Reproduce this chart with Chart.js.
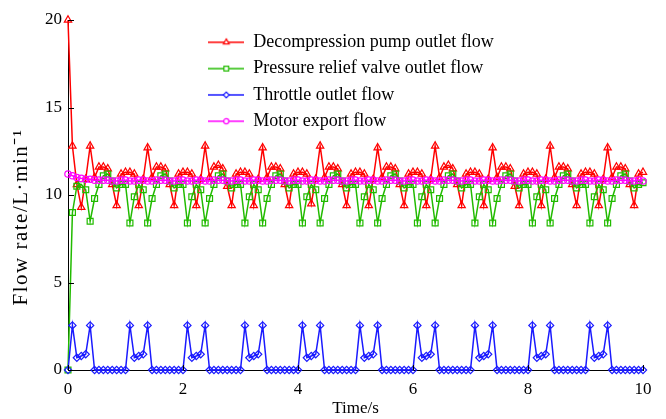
<!DOCTYPE html>
<html><head><meta charset="utf-8">
<script src="https://cdn.jsdelivr.net/npm/chart.js@4/dist/chart.umd.min.js"></script>
<style>html,body{margin:0;padding:0;background:#fff}#wrap{width:666px;height:419px;position:relative}</style>
</head><body><div id="wrap"><canvas id="c"></canvas></div>
<script>
// Time axis (s)
const times = [
0,0.077,0.154,0.231,0.308,0.385,0.462,0.538,0.615,0.692,0.769,0.846,0.923,
1,1.077,1.154,1.231,1.308,1.385,1.462,1.538,1.615,1.692,1.769,1.846,1.923,
2,2.077,2.154,2.231,2.308,2.385,2.462,2.538,2.615,2.692,2.769,2.846,2.923,
3,3.077,3.154,3.231,3.308,3.385,3.462,3.538,3.615,3.692,3.769,3.846,3.923,
4,4.077,4.154,4.231,4.308,4.385,4.462,4.538,4.615,4.692,4.769,4.846,4.923,
5,5.077,5.154,5.231,5.308,5.385,5.462,5.538,5.615,5.692,5.769,5.846,5.923,
6,6.077,6.154,6.231,6.308,6.385,6.462,6.538,6.615,6.692,6.769,6.846,6.923,
7,7.077,7.154,7.231,7.308,7.385,7.462,7.538,7.615,7.692,7.769,7.846,7.923,
8,8.077,8.154,8.231,8.308,8.385,8.462,8.538,8.615,8.692,8.769,8.846,8.923,
9,9.077,9.154,9.231,9.308,9.385,9.462,9.538,9.615,9.692,9.769,9.846,9.923,
10];
// Decompression pump outlet flow (L/min)
const pumpFlow = [
20,12.8,10.6,9.3,10.9,12.8,11.0,11.6,11.6,11.5,10.6,9.4,11.2,
11.3,11.3,11.2,9.4,10.9,12.7,11.0,11.6,11.6,11.5,10.6,9.4,11.2,
11.3,11.3,11.2,9.4,10.9,12.8,11.0,11.6,11.7,11.5,10.5,9.4,11.2,
11.3,11.3,11.2,9.4,10.9,12.7,11.0,11.6,11.6,11.5,10.6,9.4,11.2,
11.3,11.3,11.2,9.5,10.9,12.8,11.0,11.6,11.6,11.5,10.6,9.4,11.2,
11.3,11.3,11.2,9.4,10.9,12.7,11.0,11.6,11.6,11.5,10.6,9.4,11.2,
11.3,11.3,11.2,9.4,10.9,12.8,11.0,11.6,11.7,11.5,10.6,9.4,11.2,
11.3,11.3,11.2,9.4,10.9,12.7,11.0,11.6,11.6,11.5,10.5,9.4,11.2,
11.3,11.3,11.2,9.4,10.9,12.8,11.0,11.6,11.6,11.5,10.6,9.4,11.2,
11.3,11.3,11.2,9.4,10.9,12.7,11.0,11.6,11.6,11.5,10.6,9.4,11.2,
11.3];
// Pressure relief valve outlet flow
const reliefFlow = [
0,9.0,10.5,10.6,10.3,8.5,9.8,10.6,11.1,11.2,10.8,10.4,10.6,
10.6,8.4,9.9,10.6,10.3,8.4,9.8,10.6,11.1,11.2,10.8,10.4,10.6,
10.6,8.4,9.9,10.6,10.3,8.4,9.8,10.6,11.1,11.2,10.8,10.4,10.6,
10.6,8.4,9.9,10.6,10.3,8.4,9.8,10.6,11.1,11.2,10.8,10.4,10.6,
10.6,8.4,9.9,10.6,10.3,8.4,9.8,10.6,11.1,11.2,10.8,10.4,10.6,
10.6,8.4,9.9,10.6,10.3,8.4,9.8,10.6,11.1,11.2,10.8,10.4,10.6,
10.6,8.4,9.9,10.6,10.3,8.4,9.8,10.6,11.1,11.2,10.8,10.4,10.6,
10.6,8.4,9.9,10.6,10.3,8.4,9.8,10.6,11.1,11.2,10.8,10.4,10.6,
10.6,8.4,9.9,10.6,10.3,8.4,9.8,10.6,11.1,11.2,10.8,10.4,10.6,
10.6,8.4,9.9,10.6,10.3,8.4,9.8,10.6,11.1,11.2,10.8,10.4,10.6,
10.7];
// Throttle outlet flow
const throttleFlow = [
0,2.55,0.7,0.8,0.9,2.55,0,0,0,0,0,0,0,
0,2.55,0.7,0.8,0.9,2.55,0,0,0,0,0,0,0,
0,2.55,0.7,0.8,0.9,2.55,0,0,0,0,0,0,0,
0,2.55,0.7,0.8,0.9,2.55,0,0,0,0,0,0,0,
0,2.55,0.7,0.8,0.9,2.55,0,0,0,0,0,0,0,
0,2.55,0.7,0.8,0.9,2.55,0,0,0,0,0,0,0,
0,2.55,0.7,0.8,0.9,2.55,0,0,0,0,0,0,0,
0,2.55,0.7,0.8,0.9,2.55,0,0,0,0,0,0,0,
0,2.55,0.7,0.8,0.9,2.55,0,0,0,0,0,0,0,
0,2.55,0.7,0.8,0.9,2.55,0,0,0,0,0,0,0,
0];
// Motor export flow
const motorFlow = [
11.2,11.1,11.0,10.95,10.9,10.9,10.85,10.85,10.85,10.85,10.8,10.8,10.85,
10.85,10.8,10.8,10.85,10.85,10.8,10.8,10.85,10.85,10.85,10.8,10.8,10.85,
10.85,10.8,10.8,10.85,10.85,10.8,10.8,10.85,10.85,10.85,10.8,10.8,10.85,
10.85,10.8,10.8,10.85,10.85,10.8,10.8,10.85,10.85,10.85,10.8,10.8,10.85,
10.85,10.8,10.8,10.85,10.85,10.8,10.8,10.85,10.85,10.85,10.8,10.8,10.85,
10.85,10.8,10.8,10.85,10.85,10.8,10.8,10.85,10.85,10.85,10.8,10.8,10.85,
10.85,10.8,10.8,10.85,10.85,10.8,10.8,10.85,10.85,10.85,10.8,10.8,10.85,
10.85,10.8,10.8,10.85,10.85,10.8,10.8,10.85,10.85,10.85,10.8,10.8,10.85,
10.85,10.8,10.8,10.85,10.85,10.8,10.8,10.85,10.85,10.85,10.8,10.8,10.85,
10.85,10.8,10.8,10.85,10.85,10.8,10.8,10.85,10.85,10.85,10.8,10.8,10.85,
10.8];
const seriesNames = ['Decompression pump outlet flow','Pressure relief valve outlet flow','Throttle outlet flow','Motor export flow'];
const xTicks = [0,2,4,6,8,10];
const yTicks = [0,5,10,15,20];
const xTitle = 'Time/s';
const yTitle = 'Flow rate/L\u00b7min\u207b\u00b9';

const SERIF = "'Liberation Serif','Times New Roman',serif";
Chart.defaults.font.family = SERIF;
Chart.defaults.color = '#000';

const styles = [
  {color:'#ff0000', point:'triangle', r:4.2},
  {color:'#22bb00', point:'rect', r:4.2},
  {color:'#1a1aff', point:'rectRot', r:3.6},
  {color:'#ff00ff', point:'circle', r:3.2}
];
const values = [pumpFlow, reliefFlow, throttleFlow, motorFlow];

function sampleIcon(st){
  const c = document.createElement('canvas');
  c.width = 36; c.height = 14;
  const g = c.getContext('2d');
  g.strokeStyle = st.color; g.lineWidth = 1.5;
  g.beginPath(); g.moveTo(0,7); g.lineTo(36,7); g.stroke();
  g.fillStyle = '#ffffff'; g.lineWidth = 1.2;
  Chart.helpers.drawPoint(g, {pointStyle: st.point, radius: st.r*0.8, rotation: 0, borderWidth: 1.2}, 18, 7);
  return c;
}

const datasets = values.map((v, i) => ({
  label: seriesNames[i],
  data: times.map((t, k) => ({x: t, y: v[k]})),
  borderColor: styles[i].color,
  backgroundColor: 'rgba(255,255,255,0)',
  borderWidth: 1.5,
  pointStyle: styles[i].point,
  pointRadius: styles[i].r,
  pointBorderWidth: 1.2,
  pointBorderColor: styles[i].color,
  pointBackgroundColor: 'rgba(255,255,255,0)',
  tension: 0,
  clip: false,
  order: 4 - i
}));

const inwardTicks = {
  id: 'inwardTicks',
  afterDraw(chart){
    const {ctx, chartArea, scales:{x, y}} = chart;
    ctx.save(); ctx.strokeStyle = '#000'; ctx.lineWidth = 1;
    x.ticks.forEach(t => { const px = Math.round(x.getPixelForValue(t.value)) + 0.5; ctx.beginPath(); ctx.moveTo(px, chartArea.bottom); ctx.lineTo(px, chartArea.bottom - 5); ctx.stroke(); });
    y.ticks.forEach(t => { const py = Math.round(y.getPixelForValue(t.value)) + 0.5; ctx.beginPath(); ctx.moveTo(chartArea.left, py); ctx.lineTo(chartArea.left + 6, py); ctx.stroke(); });
    ctx.restore();
  }
};
// y-axis title, placed as in the source figure
const yTitleDraw = {
  id: 'yTitleDraw',
  afterDraw(chart){
    const {ctx, chartArea} = chart;
    ctx.save();
    ctx.font = '21px ' + SERIF; ctx.fillStyle = '#000';
    ctx.textAlign = 'center'; ctx.textBaseline = 'middle';
    if ('letterSpacing' in ctx) ctx.letterSpacing = '1.5px';
    ctx.translate(21, (chartArea.top + chartArea.bottom) / 2 + 22);
    ctx.rotate(-Math.PI / 2);
    ctx.fillText(yTitle, 0, 0);
    ctx.restore();
  }
};
const legendPlace = {
  id: 'legendPlace',
  afterLayout(chart){
    const lg = chart.legend; if (!lg) return;
    const w = lg.width, h = lg.height;
    lg.left = chart.chartArea.left + 132; lg.top = chart.chartArea.top + 5;
    lg.right = lg.left + w; lg.bottom = lg.top + h;
  }
};

new Chart(document.getElementById('c'), {
  type: 'line',
  data: { datasets },
  options: {
    responsive: true, maintainAspectRatio: false, animation: false,
    layout: { padding: { top: 20, right: 23, left: 0, bottom: 0 } },
    plugins: {
      tooltip: { enabled: false },
      legend: {
        position: 'chartArea', align: 'start',
        labels: {
          usePointStyle: true, pointStyleWidth: 36, padding: 8.3,
          font: { size: 18, family: SERIF }, color: '#000',
          generateLabels(chart){
            return chart.data.datasets.map((ds, i) => ({
              text: ds.label, datasetIndex: i, pointStyle: sampleIcon(styles[i]),
              fillStyle: styles[i].color, strokeStyle: styles[i].color, lineWidth: 0, hidden: false
            }));
          }
        }
      }
    },
    scales: {
      x: {
        type: 'linear', min: 0, max: 10,
        afterBuildTicks: s => { s.ticks = xTicks.map(v => ({value: v})); },
        afterFit: s => { s.height = 49; },
        grid: { display: false, drawTicks: false },
        border: { display: true, color: '#000', width: 1 },
        ticks: { font: { size: 17 }, color: '#000', padding: 9, maxRotation: 0 },
        title: { display: true, text: xTitle, font: { size: 17 }, color: '#000', padding: { top: 0, bottom: 0 } }
      },
      y: {
        type: 'linear', min: 0, max: 20,
        afterBuildTicks: s => { s.ticks = yTicks.map(v => ({value: v})); },
        afterFit: s => { s.width = 68; },
        grid: { display: false, drawTicks: false },
        border: { display: true, color: '#000', width: 1 },
        ticks: { font: { size: 17 }, color: '#000', padding: 6 },
        title: { display: false }
      }
    }
  },
  plugins: [inwardTicks, yTitleDraw, legendPlace]
});
</script>
</body></html>
